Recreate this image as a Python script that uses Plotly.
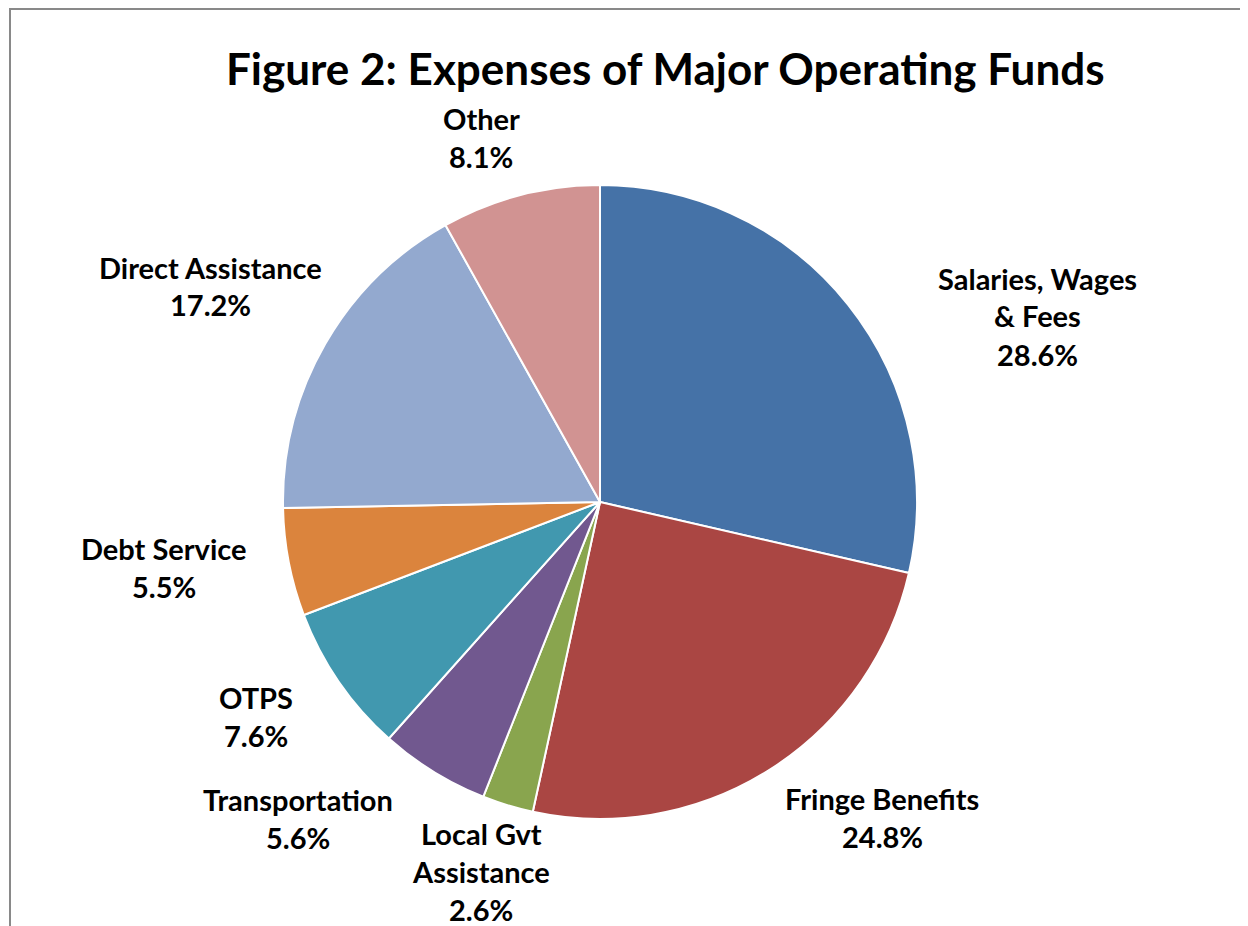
import plotly.graph_objects as go

# --- data ---------------------------------------------------------------
labels = ["Salaries, Wages<br>& Fees", "Fringe Benefits", "Local Gvt<br>Assistance",
          "Transportation", "OTPS", "Debt Service", "Direct Assistance", "Other"]
shares = [28.6, 24.8, 2.6, 5.6, 7.6, 5.5, 17.2, 8.1]
colors = ["#4572A7", "#AA4643", "#89A54E", "#71588F",
          "#4198AF", "#DB843D", "#93A9CF", "#D19392"]
title = "Figure 2: Expenses of Major Operating Funds"

# page has an 8px body margin; positions below are in page pixels
W, H = 1248, 926
OFF = 8
def px(x): return (x - OFF) / W
def py(y): return 1 - (y - OFF) / H

# label block anchors (centre x, first-line y)
label_pos = [(1037, 278), (882, 798), (481, 833), (298, 799),
             (256, 697), (164, 548), (210, 267), (481, 118)]
LINE = 38
FONT = "Lato, 'Open Sans', sans-serif"

CX, CY, R = 600, 502, 317
fig = go.Figure(go.Pie(
    labels=[l.replace("<br>", " ") for l in labels], values=shares,
    sort=False, direction="clockwise", rotation=0,
    marker=dict(colors=colors, line=dict(color="white", width=2)),
    textinfo="none", hoverinfo="label+percent",
    domain=dict(x=[px(CX - R), px(CX + R)], y=[py(CY + R), py(CY - R)]),
))

# one annotation per text line so the line spacing matches
for lab, v, (lx, ly) in zip(labels, shares, label_pos):
    lines = lab.split("<br>") + [f"{v:.1f}%"]
    for k, t in enumerate(lines):
        fig.add_annotation(x=px(lx), y=py(ly + k * LINE), xref="paper", yref="paper",
                           text=f"<b>{t}</b>", showarrow=False,
                           xanchor="center", yanchor="middle",
                           font=dict(family=FONT, size=29, color="black"))

fig.add_annotation(x=px(665), y=py(68), xref="paper", yref="paper",
                   text=f"<b>{title}</b>", showarrow=False,
                   xanchor="center", yanchor="middle",
                   font=dict(family=FONT, size=44, color="black"))

# chart-area frame (only top and left edges visible)
fig.add_shape(type="rect", xref="paper", yref="paper",
              x0=px(10), y0=-0.1, x1=1.1, y1=py(9),
              line=dict(color="#898989", width=2), fillcolor="rgba(0,0,0,0)")

fig.update_layout(width=W, height=H, margin=dict(l=0, r=0, t=0, b=0),
                  showlegend=False, paper_bgcolor="white", plot_bgcolor="white")
fig.write_html("out.html")
